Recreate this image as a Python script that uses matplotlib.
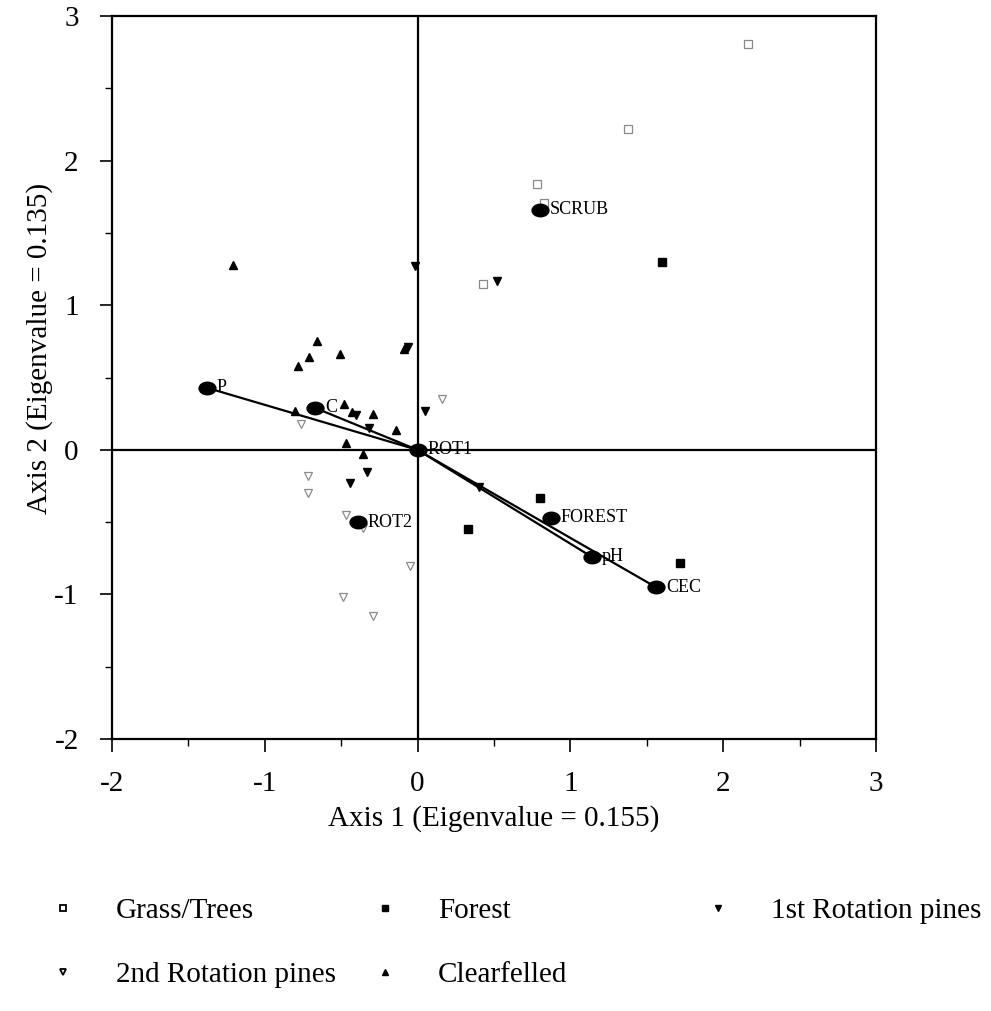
#Ordination biplot of soil samples by land use, with environmental vectors

#Libraries
import matplotlib
matplotlib.use("Agg")
import matplotlib.pyplot as plt
from matplotlib.markers import MarkerStyle
from matplotlib.transforms import Affine2D
from matplotlib.lines import Line2D

plt.rcParams['font.family'] = ['Liberation Serif', 'DejaVu Serif']
plt.rcParams['axes.unicode_minus'] = False

#Sample scores per land-use group (axis 1, axis 2)
grass_x = [2.16, 1.38, 0.78, 0.83, 0.43]
grass_y = [2.81, 2.22, 1.84, 1.71, 1.15]

forest_x = [1.60, 0.80, 0.33, 1.72]
forest_y = [1.30, -0.33, -0.55, -0.78]

rot1_x = [-0.02, 0.52, -0.06, 0.05, -0.32, -0.40, -0.33, -0.44, 0.40]
rot1_y = [1.27, 1.17, 0.71, 0.27, 0.15, 0.24, -0.15, -0.23, -0.26]

rot2_x = [0.16, -0.76, -0.72, -0.72, -0.47, -0.36, -0.05, -0.49, -0.29]
rot2_y = [0.35, 0.18, -0.18, -0.30, -0.45, -0.54, -0.80, -1.02, -1.15]

clear_x = [-1.21, -0.66, -0.71, -0.78, -0.51, -0.09, -0.80, -0.48, -0.43, -0.29, -0.14, -0.47, -0.36]
clear_y = [1.28, 0.75, 0.64, 0.58, 0.66, 0.70, 0.27, 0.32, 0.26, 0.25, 0.14, 0.05, -0.03]

#Environmental variables (drawn as vectors from the origin)
env_names = ['P', 'C', 'pH', 'CEC']
env_x = [-1.38, -0.67, 1.14, 1.56]
env_y = [0.43, 0.29, -0.74, -0.95]

#Land-use centroids
cent_names = ['ROT1', 'ROT2', 'SCRUB', 'FOREST']
cent_x = [0.0, -0.39, 0.80, 0.87]
cent_y = [0.0, -0.50, 1.66, -0.47]

grey = '#8a8a8a'

fig = plt.figure(figsize=(9.91, 10.11), dpi=100)
ax = fig.add_axes([0.113, 0.269, 0.771, 0.715])

ax.axhline(0, color='black', lw=1.6, zorder=1)
ax.axvline(0, color='black', lw=1.6, zorder=1)

#vectors
for ex, ey in zip(env_x, env_y):
    ax.plot([0, ex], [0, ey], color='black', lw=1.6, zorder=2)

ax.plot(grass_x, grass_y, ls='none', marker='s', ms=6, mfc='white', mec=grey, mew=0.9, zorder=3)
ax.plot(forest_x, forest_y, ls='none', marker='s', ms=5.5, color='black', zorder=3)
ax.plot(rot1_x, rot1_y, ls='none', marker='v', ms=6, color='black', zorder=3)
ax.plot(rot2_x, rot2_y, ls='none', marker='v', ms=6, mfc='white', mec=grey, mew=0.9, zorder=3)
ax.plot(clear_x, clear_y, ls='none', marker='^', ms=6, color='black', zorder=3)

#black ellipses for vector tips and centroids
dot = MarkerStyle('o', transform=Affine2D().scale(1.35, 1.0))
ax.plot(env_x + cent_x, env_y + cent_y, ls='none', marker=dot, ms=9, color='black', zorder=4)

for name, ex, ey in zip(env_names + cent_names, env_x + cent_x, env_y + cent_y):
    ax.text(ex + 0.065, ey, name, fontsize=13, va='center', ha='left', zorder=5)

ax.set_xlim(-2, 3)
ax.set_ylim(-2, 3)
ax.set_xticks([-2, -1, 0, 1, 2, 3])
ax.set_yticks([-2, -1, 0, 1, 2, 3])
ax.set_xticks([-1.5, -0.5, 0.5, 1.5, 2.5], minor=True)
ax.set_yticks([-1.5, -0.5, 0.5, 1.5, 2.5], minor=True)
ax.tick_params(which='major', direction='out', length=9, width=1.2, labelsize=21)
ax.tick_params(which='minor', direction='out', length=5, width=1.0)
ax.tick_params(axis='x', which='major', pad=14)
ax.tick_params(axis='y', which='major', pad=15)
for sp in ax.spines.values():
    sp.set_linewidth(1.6)

ax.set_xlabel('Axis 1 (Eigenvalue = 0.155)', fontsize=21, labelpad=6)
ax.set_ylabel('Axis 2 (Eigenvalue = 0.135)', fontsize=21, labelpad=12)
ax.yaxis.set_label_coords(-0.077, 0.54)

#legend in three columns below the plot
def handle(marker, filled):
    if filled:
        return Line2D([], [], ls='none', marker=marker, ms=5, color='black')
    return Line2D([], [], ls='none', marker=marker, ms=5, mfc='white', mec='black', mew=1.3)

legend_cols = [
    ([handle('s', False), handle('v', False)], ['Grass/Trees', '2nd Rotation pines'], 0.049),
    ([handle('s', True), handle('^', True)], ['Forest', 'Clearfelled'], 0.374),
    ([handle('v', True)], ['1st Rotation pines'], 0.710),
]
for hs, labels, x0 in legend_cols:
    fig.legend(hs, labels, loc='upper left', bbox_to_anchor=(x0, 0.112), frameon=False,
               fontsize=21, handlelength=1.0, handletextpad=1.3, labelspacing=1.28,
               borderpad=0, borderaxespad=0)

fig.savefig('out.png', dpi=100)
